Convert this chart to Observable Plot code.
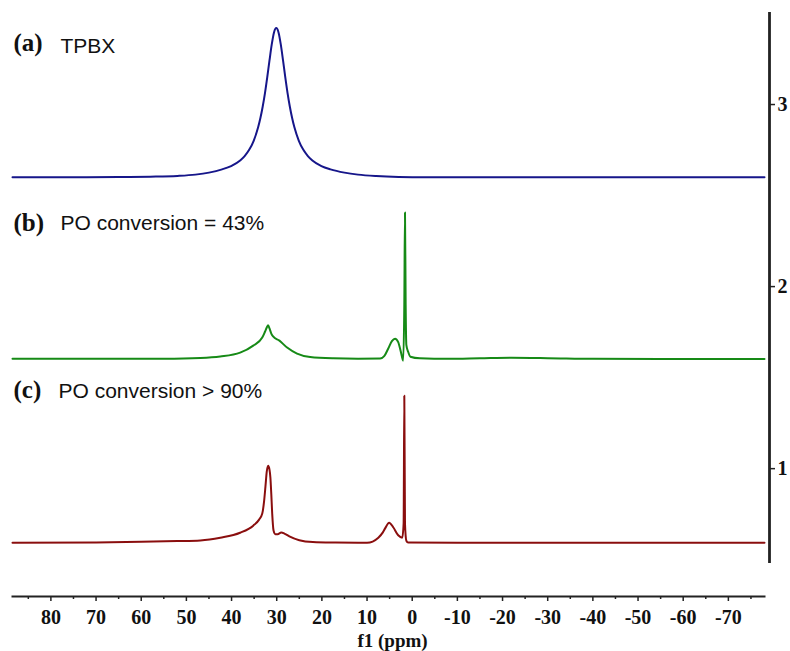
<!DOCTYPE html>
<html><head><meta charset="utf-8">
<script src="https://cdn.jsdelivr.net/npm/d3@7"></script>
<script src="https://cdn.jsdelivr.net/npm/@observablehq/plot@0.6"></script>
<style>body{margin:0;background:#fff}</style>
</head><body><div id="chart"></div>
<script>
// Spectrum (a) TPBX
const ppmA = [88.5, 75, 65, 58, 52, 48, 45, 42.1, 40.1, 38.1, 37.1, 36.1, 35.1, 34.1, 33.6, 33.1, 32.6, 32.1, 31.6, 31.1, 30.6, 30.1, 29.6, 29.1, 28.6, 28.1, 27.6, 27.1, 26.6, 26.1, 25.1, 24.1, 23.1, 22.1, 20.1, 18.1, 15, 12, 8, 3, 0, -20, -50, -78];
const intA = [2.600, 2.601, 2.602, 2.604, 2.608, 2.615, 2.626, 2.644, 2.662, 2.693, 2.717, 2.751, 2.801, 2.876, 2.927, 2.989, 3.063, 3.149, 3.242, 3.330, 3.396, 3.420, 3.396, 3.330, 3.242, 3.149, 3.063, 2.989, 2.927, 2.876, 2.801, 2.751, 2.717, 2.693, 2.662, 2.644, 2.626, 2.615, 2.607, 2.602, 2.601, 2.600, 2.600, 2.600];
// Spectrum (b) PO conversion = 43%
const ppmB = [88.5, 70, 55, 46.9, 42.5, 38.1, 35.2, 33.2, 32.6, 32.2, 31.9, 31.6, 31.2, 30.8, 29.4, 27.7, 25.5, 22.6, 17.5, 12, 7.1, 6.2, 5.3, 4.5, 3.8, 3.1, 2.5, 2.0, 1.75, 1.6, 1.45, 1.3, 0.9, 0.4, -1.7, -8, -15, -22, -30, -40, -55, -78];
const intB = [1.603, 1.603, 1.604, 1.608, 1.616, 1.637, 1.676, 1.720, 1.752, 1.775, 1.788, 1.770, 1.742, 1.726, 1.703, 1.665, 1.632, 1.613, 1.606, 1.604, 1.605, 1.618, 1.660, 1.700, 1.714, 1.695, 1.640, 1.593, 1.900, 2.407, 1.900, 1.680, 1.642, 1.615, 1.606, 1.603, 1.606, 1.609, 1.607, 1.603, 1.602, 1.602];
// Spectrum (c) PO conversion > 90%
const ppmC = [88.5, 70, 60, 52, 46.9, 42.5, 38.1, 35.2, 33.9, 33.2, 32.8, 32.5, 32.2, 31.9, 31.6, 31.4, 31.2, 31.0, 30.7, 30.3, 29.8, 29.0, 28.2, 27.2, 25.0, 22.0, 17, 12, 10.0, 7.5, 6.5, 6.0, 5.1, 4.2, 3.1, 2.2, 1.9, 1.75, 1.6, 1.3, 0.9, -10, -40, -78];
const intC = [0.593, 0.595, 0.598, 0.602, 0.606, 0.621, 0.648, 0.687, 0.720, 0.753, 0.820, 0.900, 0.985, 1.016, 0.995, 0.951, 0.860, 0.753, 0.660, 0.640, 0.640, 0.649, 0.642, 0.628, 0.607, 0.597, 0.594, 0.593, 0.593, 0.621, 0.650, 0.672, 0.703, 0.678, 0.634, 0.621, 0.700, 1.401, 0.700, 0.604, 0.594, 0.593, 0.593, 0.593];

const xMajorTicks = [80, 70, 60, 50, 40, 30, 20, 10, 0, -10, -20, -30, -40, -50, -60, -70];
const xMinorTicks = [85, 75, 65, 55, 45, 35, 25, 15, 5, -5, -15, -25, -35, -45, -55, -65, -75];
const yTicks = [1, 2, 3];
const panelTags = ["(a)", "(b)", "(c)"];
const panelTitles = ["TPBX", "PO conversion = 43%", "PO conversion > 90%"];
const seriesColors = ["#16168a", "#168a16", "#8a0e0e"];
const xLabel = "f1 (ppm)";

const rows = [
  ...ppmA.map((p, i) => ({ppm: p, v: intA[i], s: "a"})),
  ...ppmB.map((p, i) => ({ppm: p, v: intB[i], s: "b"})),
  ...ppmC.map((p, i) => ({ppm: p, v: intC[i], s: "c"}))
];

const serif = "'Liberation Serif', 'Times New Roman', serif";
const sans = "'Liberation Sans', Arial, sans-serif";
const tagOffsets = [37, 217, 384];
const titleDx = [48, 48, 46];
const titleOffsets = [39, 216, 384];

const labelMarks = [];
panelTags.forEach((t, i) => {
  labelMarks.push(Plot.text([t], {frameAnchor: "top-left", text: d => d, textAnchor: "start", lineAnchor: "bottom", dx: 1, dy: tagOffsets[i], fontFamily: serif, fontWeight: "bold", fontSize: 25, fill: "#111"}));
  labelMarks.push(Plot.text([panelTitles[i]], {frameAnchor: "top-left", text: d => d, textAnchor: "start", lineAnchor: "bottom", dx: titleDx[i], dy: titleOffsets[i], fontFamily: sans, fontSize: 21, fill: "#111"}));
});

const chart = Plot.plot({
  width: 790,
  height: 651,
  marginTop: 13,
  marginBottom: 90,
  marginLeft: 12,
  marginRight: 26,
  style: {background: "#fff", overflow: "visible"},
  x: {domain: [88.5, -78], axis: null},
  y: {domain: [0.49, 3.5], axis: null},
  color: {domain: ["a", "b", "c"], range: seriesColors},
  marks: [
    Plot.line(rows, {x: "ppm", y: "v", z: "s", stroke: "s", strokeWidth: 2, curve: "monotone-x"}),
    Plot.axisX({ticks: xMajorTicks, anchor: "bottom", dy: 35, tickSize: 5, tickPadding: 8, tickFormat: d => String(d), fontFamily: serif, fontWeight: "bold", fontSize: 20, stroke: "#222", strokeWidth: 1.5, fill: "#111", label: null}),
    Plot.axisX({ticks: xMinorTicks, anchor: "bottom", dy: 35, tickSize: 3, text: null, stroke: "#222", strokeWidth: 1.5, label: null}),
    Plot.frame({anchor: "bottom", dy: 35, stroke: "#222", strokeWidth: 2}),
    Plot.axisY({ticks: yTicks, anchor: "right", dx: 5, tickSize: 5, tickPadding: 3, tickFormat: d => String(d), fontFamily: serif, fontWeight: "bold", fontSize: 20, stroke: "#222", strokeWidth: 1.5, fill: "#111", label: null}),
    Plot.frame({anchor: "right", dx: 5, stroke: "#222", strokeWidth: 2.8}),
    Plot.text([xLabel], {frameAnchor: "bottom", text: d => d, lineAnchor: "bottom", dx: 4, dy: 85, fontFamily: serif, fontWeight: "bold", fontSize: 19, fill: "#111"}),
    ...labelMarks
  ]
});
document.getElementById("chart").appendChild(chart);
</script>
</body></html>
